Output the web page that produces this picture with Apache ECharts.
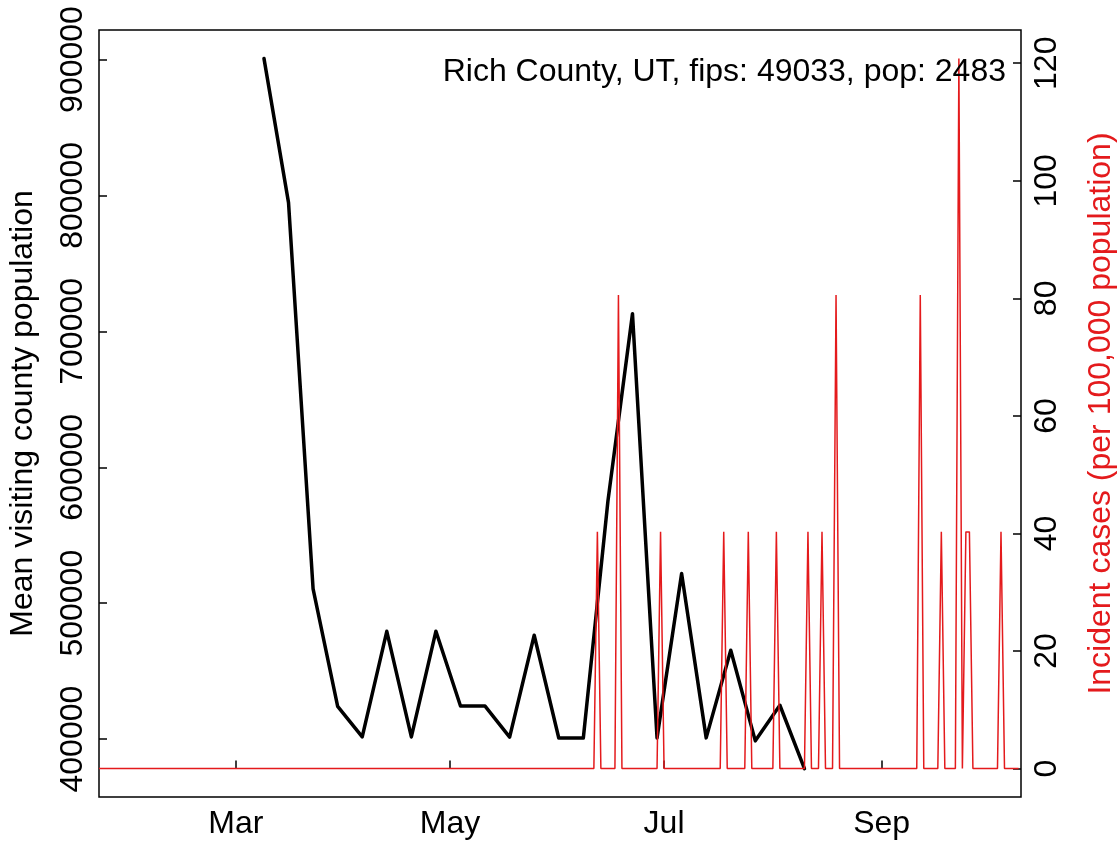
<!DOCTYPE html>
<html>
<head>
<meta charset="utf-8">
<script src="https://cdn.jsdelivr.net/npm/echarts@6/dist/echarts.min.js"></script>
<style>
html,body{margin:0;padding:0;background:#fff;}
#chart{width:1119px;height:846px;}
</style>
</head>
<body>
<div id="chart"></div>
<script>
// ---- data ----
const seriesStart = '2020-01-22';
const seriesEnd = '2020-10-10';
const axisEndDay = 262.7;           // right edge of x range (days after start)

const visitDates = ['2020-03-09','2020-03-16','2020-03-23','2020-03-30','2020-04-06','2020-04-13',
  '2020-04-20','2020-04-27','2020-05-04','2020-05-11','2020-05-18','2020-05-25','2020-06-01',
  '2020-06-08','2020-06-15','2020-06-22','2020-06-29','2020-07-06','2020-07-13','2020-07-20',
  '2020-07-27','2020-08-03','2020-08-10'];
const visitValues = [900800, 794700, 510500, 424100, 401600, 479300, 401600, 479400, 424300,
  424300, 401500, 476400, 400800, 400800, 575000, 713000, 400900, 521800, 400900, 465400,
  398700, 424900, 378300];

const caseDates = ['2020-06-12','2020-06-18','2020-06-30','2020-07-18','2020-07-25','2020-08-02',
  '2020-08-11','2020-08-15','2020-08-19','2020-09-12','2020-09-18','2020-09-23','2020-09-25',
  '2020-09-26','2020-10-05'];
const caseValues = [40.27, 80.55, 40.27, 40.27, 40.27, 40.27, 40.27, 40.27, 80.55, 80.55, 40.27,
  120.82, 40.27, 40.27, 40.27];

const tickDates = ['2020-03-01','2020-05-01','2020-07-01','2020-09-01'];
const tickLabels = ['Mar','May','Jul','Sep'];
const leftTicks = [400000, 500000, 600000, 700000, 800000, 900000];
const rightTicks = [0, 20, 40, 60, 80, 100, 120];

const titleText = 'Rich County, UT, fips: 49033, pop: 2483';
const leftName = 'Mean visiting county population';
const rightName = 'Incident cases (per 100,000 population)';

// ---- helpers ----
const DAY = 86400000;
const t0 = Date.parse(seriesStart + 'T00:00:00Z');
const dayOf = s => (Date.parse(s + 'T00:00:00Z') - t0) / DAY;

const visitData = visitDates.map((d, i) => [dayOf(d), visitValues[i]]);
const caseMap = {};
caseDates.forEach((d, i) => { caseMap[dayOf(d)] = caseValues[i]; });
const caseData = [];
for (let k = 0; k <= dayOf(seriesEnd); k++) caseData.push([k, caseMap[k] || 0]);

const tickDays = tickDates.map(dayOf);

function padRange(vals) {
  const a = Math.min(...vals), b = Math.max(...vals), p = 0.04 * (b - a);
  return [a - p, b + p];
}
const leftRange = padRange(visitValues);
const rightRange = padRange(caseData.map(d => d[1]));

const FONT = "'Liberation Sans', Arial, Helvetica, sans-serif";
const FS = 32;
const RED = '#E41A1C';

const chart = echarts.init(document.getElementById('chart'), null, {renderer: 'canvas'});
chart.setOption({
  backgroundColor: '#fff',
  animation: false,
  textStyle: {fontFamily: FONT},
  grid: {left: 99, right: 98, top: 30, bottom: 49, show: true, borderColor: '#000', borderWidth: 1.5,
    outerBoundsMode: 'none', containLabel: false},
  xAxis: {
    type: 'value', min: 0, max: axisEndDay,
    axisLine: {show: false},
    splitLine: {show: false},
    axisTick: {show: true, inside: true, length: 8, lineStyle: {color: '#000', width: 1.5}, customValues: tickDays},
    axisLabel: {show: true, customValues: tickDays, margin: 11, color: '#000', fontSize: FS, fontFamily: FONT,
      hideOverlap: false,
      formatter: v => { const i = tickDays.indexOf(v); return i >= 0 ? tickLabels[i] : ''; }}
  },
  yAxis: [
    {
      type: 'value', position: 'left', min: leftRange[0], max: leftRange[1],
      name: leftName, nameLocation: 'middle', nameRotate: 90, nameGap: 60,
      nameTextStyle: {color: '#000', fontSize: FS, fontFamily: FONT},
      axisLine: {show: false}, splitLine: {show: false},
      axisTick: {show: true, inside: true, length: 8, lineStyle: {color: '#000', width: 1.5}, customValues: leftTicks},
      axisLabel: {show: true, customValues: leftTicks, rotate: 90, margin: 10, color: '#000', fontSize: FS,
        fontFamily: FONT, hideOverlap: false, formatter: v => String(v)}
    },
    {
      type: 'value', position: 'right', min: rightRange[0], max: rightRange[1],
      name: rightName, nameLocation: 'middle', nameRotate: 90, nameGap: 64,
      nameTextStyle: {color: RED, fontSize: FS, fontFamily: FONT},
      axisLine: {show: false}, splitLine: {show: false},
      axisTick: {show: true, inside: true, length: 8, lineStyle: {color: '#000', width: 1.5}, customValues: rightTicks},
      axisLabel: {show: true, customValues: rightTicks, rotate: 90, margin: 10, color: '#000', fontSize: FS,
        fontFamily: FONT, hideOverlap: false, formatter: v => String(v)}
    }
  ],
  series: [
    {
      type: 'line', yAxisIndex: 0, data: visitData, showSymbol: false, symbol: 'none',
      lineStyle: {color: '#000', width: 3.5, cap: 'round', join: 'round'}, z: 2, silent: true
    },
    {
      type: 'line', yAxisIndex: 1, data: caseData, showSymbol: false, symbol: 'none',
      lineStyle: {color: RED, width: 1.5}, z: 3, silent: true
    }
  ],
  graphic: [{
    type: 'text', z: 10,
    style: {x: 1006, y: 72, text: titleText, align: 'right', verticalAlign: 'middle',
      font: FS + 'px ' + FONT, fill: '#000'}
  }]
});
</script>
</body>
</html>
